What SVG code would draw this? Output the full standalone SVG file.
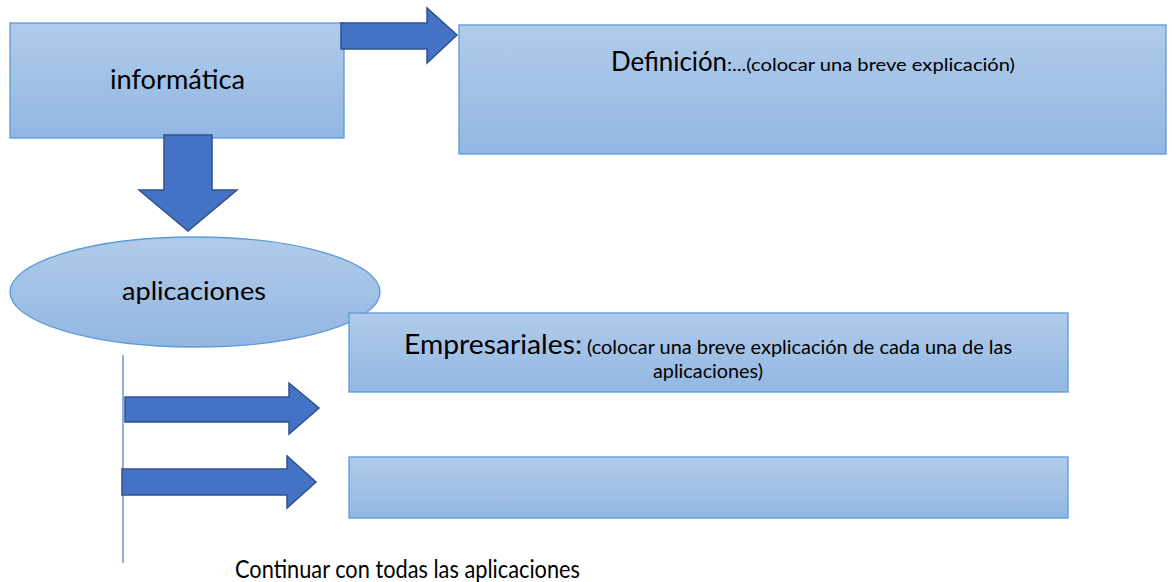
<svg xmlns="http://www.w3.org/2000/svg" width="1172" height="582" viewBox="0 0 1172 582">
<defs>
<linearGradient id="g" x1="0" y1="0" x2="0" y2="1">
<stop offset="0" stop-color="#b1cbea"/>
<stop offset="1" stop-color="#92b7e2"/>
</linearGradient>
<style>
.box{fill:url(#g);stroke:#5b9bd5;stroke-width:1.3}
.arr{fill:#4472c4;stroke:#2f528f;stroke-width:1.5;stroke-linejoin:miter}
.t{font-family:Lato,"Liberation Sans",sans-serif;fill:#000}
</style>
</defs>
<rect width="1172" height="582" fill="#fff"/>
<g id="informatica">
<rect class="box" x="10" y="23" width="334" height="115"/>
<text class="t" x="110" y="89" font-size="26" textLength="135" lengthAdjust="spacingAndGlyphs">informática</text>
</g>
<g id="definicion">
<rect class="box" x="459" y="25" width="707" height="129"/>
<text class="t" x="611" y="71" font-size="26"><tspan textLength="116" lengthAdjust="spacingAndGlyphs">Definición</tspan><tspan font-size="18" textLength="288" lengthAdjust="spacingAndGlyphs">:...(colocar una breve explicación)</tspan></text>
</g>
<g id="aplicaciones">
<ellipse class="box" cx="195" cy="292" rx="185" ry="55"/>
<text class="t" x="122" y="300" font-size="25" textLength="144" lengthAdjust="spacingAndGlyphs">aplicaciones</text>
</g>
<g id="empresariales">
<rect class="box" x="349" y="313" width="719" height="79"/>
<text class="t" x="404" y="354" font-size="26"><tspan textLength="178" lengthAdjust="spacingAndGlyphs">Empresariales:</tspan><tspan font-size="19" dx="5" textLength="425" lengthAdjust="spacingAndGlyphs">(colocar una breve explicación de cada una de las</tspan></text>
<text class="t" x="653" y="378" font-size="19" textLength="110" lengthAdjust="spacingAndGlyphs">aplicaciones)</text>
</g>
<g id="app2">
<rect class="box" x="349" y="457" width="719" height="61"/>
</g>
<g id="connectors">
<path class="arr" d="M341,23 H427 V8 L457,35 L427,63 V49 H341 Z"/>
<path class="arr" d="M164,135 H212 V190 H237 L188,231 L139,190 H164 Z"/>
<line x1="123" y1="355" x2="123" y2="563" stroke="#6f95d6" stroke-width="1.5"/>
<path class="arr" d="M125,397 H289 V383 L319,408 L289,434 V422 H125 Z"/>
<path class="arr" d="M122,469 H287 V456 L316,482 L287,508 V495 H122 Z"/>
</g>
<text class="t" x="235" y="578" font-size="25" textLength="345" lengthAdjust="spacingAndGlyphs">Continuar con todas las aplicaciones</text>
</svg>
